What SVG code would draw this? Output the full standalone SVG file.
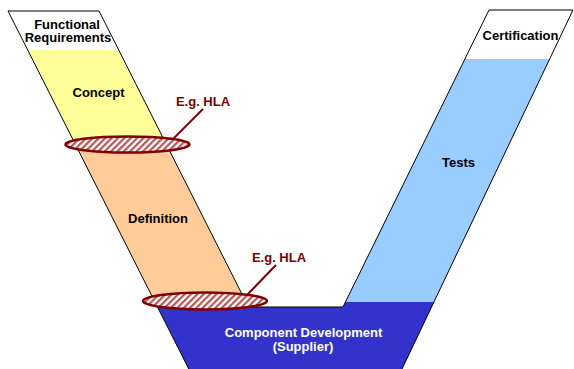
<svg xmlns="http://www.w3.org/2000/svg" width="574" height="369" viewBox="0 0 574 369">
  <style>
    .t { font-family: "Liberation Sans", Arial, sans-serif; font-weight: bold; font-size: 13px; text-anchor: middle; }
    .blk { fill: #000000; }
    .wht { fill: #ffffff; }
    .red { fill: #800000; }
    .outline { fill: none; stroke: #000000; stroke-width: 1; stroke-linejoin: miter; }
    .hla { fill: url(#hatch); stroke: #800000; stroke-width: 2.5; }
    .ptr { stroke: #800000; stroke-width: 2; fill: none; }
  </style>
  <defs>
    <pattern id="hatch" patternUnits="userSpaceOnUse" width="4.5" height="4.5" patternTransform="rotate(45)">
      <rect x="0" y="0" width="4.5" height="4.5" fill="#ffffff"/>
      <rect x="0" y="0" width="2.2" height="4.5" fill="#b85555"/>
    </pattern>
  </defs>
  <rect width="574" height="369" fill="#ffffff"/>

  <g id="functional-requirements">
    <polygon points="8,11 99,11 118.7,50 27.7,50" fill="#ffffff"/>
    <text class="t blk" x="67" y="28.5">Functional</text>
    <text class="t blk" x="68" y="42">Requirements</text>
  </g>
  <g id="concept">
    <polygon points="27.7,50 118.7,50 166.7,145 75.7,145" fill="#ffff99"/>
    <text class="t blk" x="98.5" y="97">Concept</text>
  </g>
  <g id="definition">
    <polygon points="75.7,145 166.7,145 248.5,307 157.5,307" fill="#ffcc99"/>
    <text class="t blk" x="158" y="223">Definition</text>
  </g>
  <g id="certification">
    <polygon points="489,10 573,10 549.7,59 464.9,59" fill="#ffffff"/>
    <text class="t blk" x="520.5" y="39.5">Certification</text>
  </g>
  <g id="tests">
    <polygon points="464.9,59 549.7,59 434,302 345.4,302" fill="#99ccff"/>
    <text class="t blk" x="458.5" y="167">Tests</text>
  </g>
  <g id="component-development">
    <polygon points="157.5,307 343,307 345.4,302 434,302 402,369 188.8,369" fill="#3333cc"/>
    <text class="t wht" x="303.5" y="337">Component Development</text>
    <text class="t wht" x="303" y="351">(Supplier)</text>
  </g>

  <g id="connectors">
    <path class="outline" d="M188.8,369 L8,11 L99,11 L248.5,307 L343,307 L489,10 L573,10 L402,369"/>
    <line class="ptr" x1="172" y1="140" x2="203" y2="109"/>
    <line class="ptr" x1="247" y1="295" x2="276" y2="265"/>
  </g>

  <g id="hla-1">
    <ellipse class="hla" cx="127.5" cy="144.5" rx="62" ry="8"/>
    <text class="t red" x="203" y="106">E.g. HLA</text>
  </g>
  <g id="hla-2">
    <ellipse class="hla" cx="205" cy="301" rx="62" ry="8.5"/>
    <text class="t red" x="279" y="262">E.g. HLA</text>
  </g>
</svg>
